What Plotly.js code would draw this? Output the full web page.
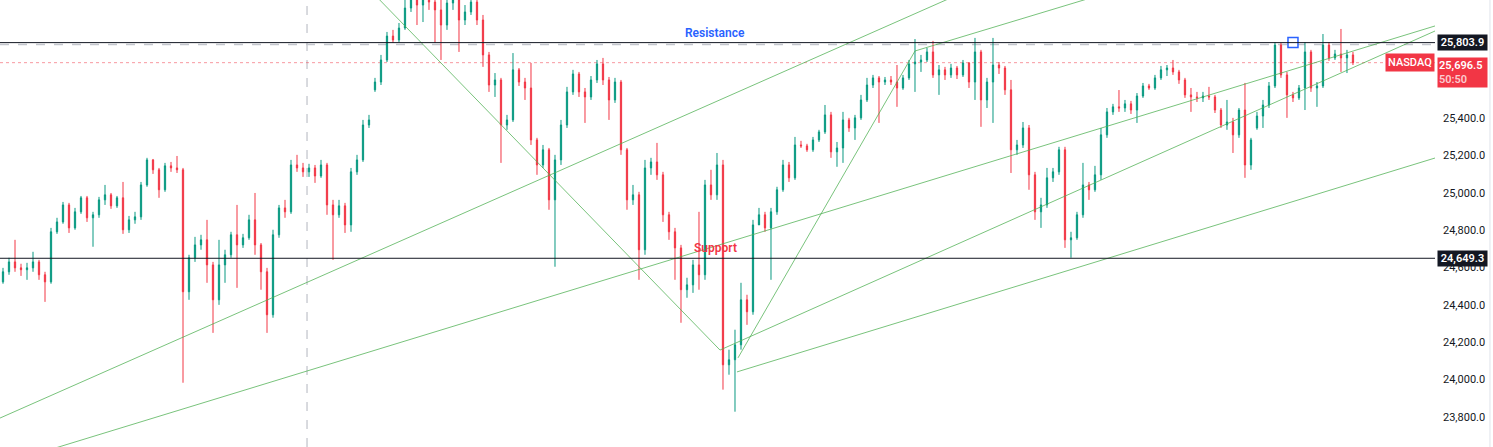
<!DOCTYPE html>
<html><head><meta charset="utf-8">
<script src="https://cdn.plot.ly/plotly-3.0.1.min.js"></script>
<style>html,body{margin:0;padding:0;background:#fff;overflow:hidden}#chart{width:1493px;height:447px}</style>
</head><body><div id="chart"></div>
<script>
// ---- NASDAQ candles (index = bar number, prices) ----
const openPx = [24523,24577,24630,24598,24588,24598,24630,24561,24523,24791,
24844,24935,24812,24898,24973,24866,24882,24962,24989,24930,
24973,24802,24855,24871,25042,25176,25123,25016,25144,25133,
25123,24470,24652,24721,24748,24614,24427,24614,24668,24775,
24721,24759,24855,24721,24577,24347,24775,24919,24898,25149,
25133,25112,25133,25090,25149,24935,24882,24930,24828,25112,
25176,25363,25551,25593,25711,25839,25818,25882,25989,26059,
26005,26048,26021,25979,25898,26016,26032,25925,25968,26021,
25925,25738,25577,25604,25363,25390,25658,25593,25561,25283,
25149,25230,24962,25176,25363,25540,25636,25540,25513,25604,
25690,25604,25497,25593,25230,24962,24989,24695,25133,25165,
25096,24882,24791,24705,24481,24507,24614,24561,25042,24989,
25149,24079,24106,24186,24427,24363,24828,24882,24812,24898,
25016,25149,25080,25256,25251,25230,25283,25326,25417,25219,
25240,25390,25347,25401,25497,25577,25615,25593,25604,25593,
25561,25615,25690,25700,25711,25754,25631,25658,25631,25668,
25631,25695,25593,25754,25497,25593,25684,25668,25551,25230,
25256,25347,25096,24898,24935,25080,25112,25230,24748,24759,
24882,25042,25016,25096,25310,25433,25460,25454,25476,25443,
25518,25572,25561,25615,25658,25668,25647,25604,25524,25513,
25508,25518,25513,25443,25363,25379,25310,25443,25149,25347,
25411,25470,25572,25791,25631,25524,25508,25561,25754,25561,
25572,25791,25722,25743,25722,25738];
const highPx = [24598,24652,24748,24620,24625,24684,24641,24577,24812,24866,
24951,24946,24919,24983,24983,24898,24978,25042,24999,24983,
25058,24876,24898,25058,25187,25181,25133,25160,25165,25197,
25133,24668,24764,24775,24855,24630,24748,24695,24791,24935,
24780,24882,24999,24731,24598,24802,24935,24962,25176,25203,
25160,25155,25149,25176,25160,24962,24962,24946,25133,25203,
25390,25417,25615,25738,25861,25872,25909,26059,26112,26112,
26096,26086,26075,26032,26064,26075,26048,26005,26075,26048,
25952,25754,25641,25615,25417,25748,25668,25615,25695,25294,
25256,25240,25203,25390,25567,25658,25647,25561,25625,25711,
25722,25620,25615,25604,25240,25042,25005,25176,25187,25267,
25112,24898,24812,24721,24545,24641,24898,25069,25123,25213,
25176,24160,24267,24518,24454,24855,24919,24898,24919,25032,
25176,25165,25299,25278,25262,25299,25337,25470,25433,25272,
25433,25401,25417,25524,25615,25631,25625,25620,25625,25684,
25631,25711,25823,25738,25775,25813,25684,25674,25690,25679,
25711,25700,25829,25765,25615,25829,25700,25679,25604,25283,
25379,25363,25112,24973,25133,25133,25246,25246,24791,24898,
25160,25058,25144,25347,25454,25476,25550,25497,25492,25534,
25588,25583,25631,25679,25684,25711,25658,25615,25561,25540,
25540,25567,25524,25454,25497,25401,25454,25588,25294,25433,
25497,25593,25807,25802,25647,25540,25577,25807,25765,25593,
25850,25807,25765,25877,25765,25754];
const lowPx = [24513,24561,24577,24555,24534,24577,24534,24416,24513,24780,
24834,24785,24802,24887,24844,24711,24866,24935,24914,24919,
24780,24785,24834,24855,25032,25101,24973,25005,25112,25106,
23983,24427,24630,24695,24518,24250,24400,24518,24652,24491,
24705,24748,24668,24481,24250,24331,24759,24866,24887,25112,
25085,25085,25053,25080,24882,24641,24866,24785,24791,25096,
25165,25347,25540,25577,25700,25802,25807,25872,25968,25898,
25914,25979,25802,25711,25872,25979,25754,25898,25952,25898,
25674,25540,25513,25160,25337,25379,25572,25497,25256,25096,
25133,24909,24604,25149,25347,25524,25513,25374,25497,25588,
25577,25390,25481,25203,24909,24935,24534,24668,25096,25069,
24844,24748,24534,24304,24438,24464,24481,24534,24962,24962,
23946,24026,23828,24160,24293,24347,24844,24791,24534,24882,
25005,25058,25069,25240,25219,25219,25272,25315,25187,25139,
25160,25326,25283,25390,25486,25561,25374,25577,25577,25460,
25551,25604,25540,25647,25700,25615,25524,25604,25615,25609,
25620,25561,25497,25353,25454,25374,25636,25524,25106,25203,
25240,25016,24855,24812,24919,25058,25096,24705,24652,24748,
24866,24962,25005,25069,25294,25417,25433,25433,25422,25374,
25508,25551,25551,25604,25625,25631,25583,25508,25433,25486,
25486,25497,25427,25347,25337,25213,25294,25080,25123,25337,
25347,25454,25561,25615,25401,25486,25497,25443,25540,25460,
25561,25706,25711,25647,25641,25684];
const closePx = [24577,24630,24598,24588,24598,24630,24561,24523,24791,24844,
24935,24812,24898,24973,24866,24882,24962,24989,24930,24973,
24802,24855,24871,25042,25176,25123,25016,25144,25133,25123,
24470,24652,24721,24748,24614,24427,24614,24668,24775,24721,
24759,24855,24721,24577,24347,24775,24919,24898,25149,25133,
25112,25133,25090,25149,24935,24882,24930,24828,25112,25176,
25363,25390,25593,25711,25839,25818,25882,25989,26059,26005,
26048,26021,25979,25898,26016,26032,25925,25968,26021,25925,
25738,25577,25604,25363,25390,25658,25593,25561,25283,25149,
25230,24962,25176,25363,25540,25636,25540,25513,25604,25690,
25604,25497,25593,25230,24962,24989,24695,25133,25165,25096,
24882,24791,24705,24481,24507,24614,24561,25042,24989,25149,
24079,24106,24186,24427,24363,24828,24882,24812,24898,25016,
25149,25080,25256,25251,25230,25283,25326,25417,25219,25240,
25390,25347,25401,25497,25577,25615,25593,25604,25593,25561,
25615,25690,25700,25711,25754,25631,25658,25631,25668,25631,
25695,25593,25754,25497,25593,25684,25668,25551,25230,25256,
25347,25096,24898,24935,25080,25112,25230,24748,24759,24882,
25042,25016,25096,25310,25433,25460,25454,25476,25443,25518,
25572,25561,25615,25658,25668,25647,25604,25524,25513,25508,
25518,25513,25443,25363,25379,25310,25443,25149,25283,25411,
25470,25572,25791,25631,25524,25508,25561,25754,25561,25572,
25791,25722,25743,25722,25738,25696.5];
const barIndex = closePx.map((_, i) => i);

// ---- drawn levels ----
const resistanceLevel = 25803.9;
const supportLevel = 24649.3;
const lastPrice = 25696.5;
const highDashLevel = 25794;
const sessionLineBar = 50.67;
const markerBar = 215;
const symbolName = "NASDAQ";
const countdown = "50:50";

// ---- trend lines: start bar, start price, end bar, end price ----
const trendStartBar   = [-0.5, -0.5, 56.17, 119.5, 122.33, 122.5, 152];
const trendStartPrice = [23794, 23543, 26251, 24158, 24041, 24116, 25759];
const trendEndBar     = [166.17, 238.67, 119.5, 238.67, 238.67, 152, 191.17];
const trendEndPrice   = [26160, 25893, 24158, 25866, 25186, 25759, 26139];

// ---- axis ----
const yTicks = [23800,24000,24200,24400,24600,24800,25000,25200,25400,25600,25800,26000];
const yRange = [23639, 26032];
const xRange = [-0.5, 238.67];

const fmt = v => v.toLocaleString('en-US', {minimumFractionDigits:1, maximumFractionDigits:1});

const traces = [];
trendStartBar.forEach((x0, k) => {
  traces.push({type:'scatter', mode:'lines', x:[x0, trendEndBar[k]], y:[trendStartPrice[k], trendEndPrice[k]],
    line:{color:'rgba(76,175,80,0.75)', width:1}, hoverinfo:'skip', showlegend:false});
});
traces.push({
  type:'candlestick', x:barIndex, open:openPx, high:highPx, low:lowPx, close:closePx,
  increasing:{line:{color:'#089981', width:1}, fillcolor:'#089981'},
  decreasing:{line:{color:'#f23645', width:1}, fillcolor:'#f23645'},
  whiskerwidth:0, hoverinfo:'skip', showlegend:false
});
traces.push({type:'scatter', mode:'markers', x:[markerBar], y:[resistanceLevel],
  marker:{symbol:'square', size:10, color:'#ffffff', line:{color:'#2962ff', width:1.5}},
  hoverinfo:'skip', showlegend:false});

const shapes = [
  {type:'line', xref:'x', yref:'paper', x0:sessionLineBar, x1:sessionLineBar, y0:0, y1:1, line:{color:'#b2b5be', width:1, dash:'dash'}, layer:'below'},
  {type:'line', xref:'paper', yref:'y', x0:0, x1:1, y0:highDashLevel, y1:highDashLevel, line:{color:'#c3c6cd', width:1.5, dash:'dash'}, layer:'below'},
  {type:'line', xref:'paper', yref:'y', x0:0, x1:1, y0:lastPrice, y1:lastPrice, line:{color:'#f23645', width:1, dash:'dot'}, layer:'below', opacity:0.5},
  {type:'line', xref:'paper', yref:'y', x0:0, x1:1, y0:resistanceLevel, y1:resistanceLevel, line:{color:'#131722', width:1}},
  {type:'line', xref:'paper', yref:'y', x0:0, x1:1, y0:supportLevel, y1:supportLevel, line:{color:'#131722', width:1}},
  {type:'line', xref:'paper', yref:'paper', x0:1.0383, x1:1.0383, y0:0, y1:1, line:{color:'#e0e3eb', width:1}}
];

const annotations = [
  {xref:'x', yref:'y', x:118.67, y:resistanceLevel, yanchor:'bottom', yshift:1, showarrow:false,
   text:'Resistance', font:{family:'Roboto, Arial, sans-serif', size:12, color:'#2962ff', weight:600}},
  {xref:'x', yref:'y', x:118.67, y:supportLevel, yanchor:'bottom', yshift:1, showarrow:false,
   text:'Support', font:{family:'Roboto, Arial, sans-serif', size:12, color:'#f23645', weight:600}},
  {xref:'paper', yref:'y', x:1.0012, xanchor:'left', y:resistanceLevel, yanchor:'middle', showarrow:false,
   text:fmt(resistanceLevel), bgcolor:'#131722', borderpad:1, width:47,
   font:{family:'Roboto, Arial, sans-serif', size:11, color:'#ffffff', weight:600}},
  {xref:'paper', yref:'y', x:1.0012, xanchor:'left', y:supportLevel, yanchor:'middle', showarrow:false,
   text:fmt(supportLevel), bgcolor:'#131722', borderpad:1, width:47,
   font:{family:'Roboto, Arial, sans-serif', size:11, color:'#ffffff', weight:600}},
  {xref:'paper', yref:'y', x:1.0012, xanchor:'left', y:lastPrice, yanchor:'top', yshift:6, showarrow:false,
   text:fmt(lastPrice) + '<br><span style="color:rgba(255,255,255,0.75)">' + countdown + '</span>',
   align:'left', bgcolor:'#f23645', borderpad:1, width:47,
   font:{family:'Roboto, Arial, sans-serif', size:11, color:'#ffffff', weight:600}},
  {xref:'paper', yref:'y', x:1, xanchor:'right', y:lastPrice, yanchor:'middle', showarrow:false,
   text:symbolName, bgcolor:'#f23645', borderpad:2,
   font:{family:'Roboto, Arial, sans-serif', size:11, color:'#ffffff', weight:500}}
];

const layout = {
  width:1493, height:447,
  margin:{l:0, r:58, t:0, b:0, pad:0},
  paper_bgcolor:'#ffffff', plot_bgcolor:'#ffffff',
  showlegend:false, boxgap:0.7,
  xaxis:{range:xRange, showgrid:false, zeroline:false, showticklabels:false, showline:false, ticks:'',
         rangeslider:{visible:false}, fixedrange:true},
  yaxis:{range:yRange, side:'right', tickvals:yTicks, ticktext:yTicks.map(fmt),
         showgrid:false, zeroline:false, showline:false, ticks:'', ticklabelstandoff:7,
         tickfont:{family:'Roboto, Arial, sans-serif', size:11, color:'#131722'}, fixedrange:true},
  shapes:shapes, annotations:annotations
};

Plotly.newPlot('chart', traces, layout, {staticPlot:true, displayModeBar:false});
</script>
</body></html>
